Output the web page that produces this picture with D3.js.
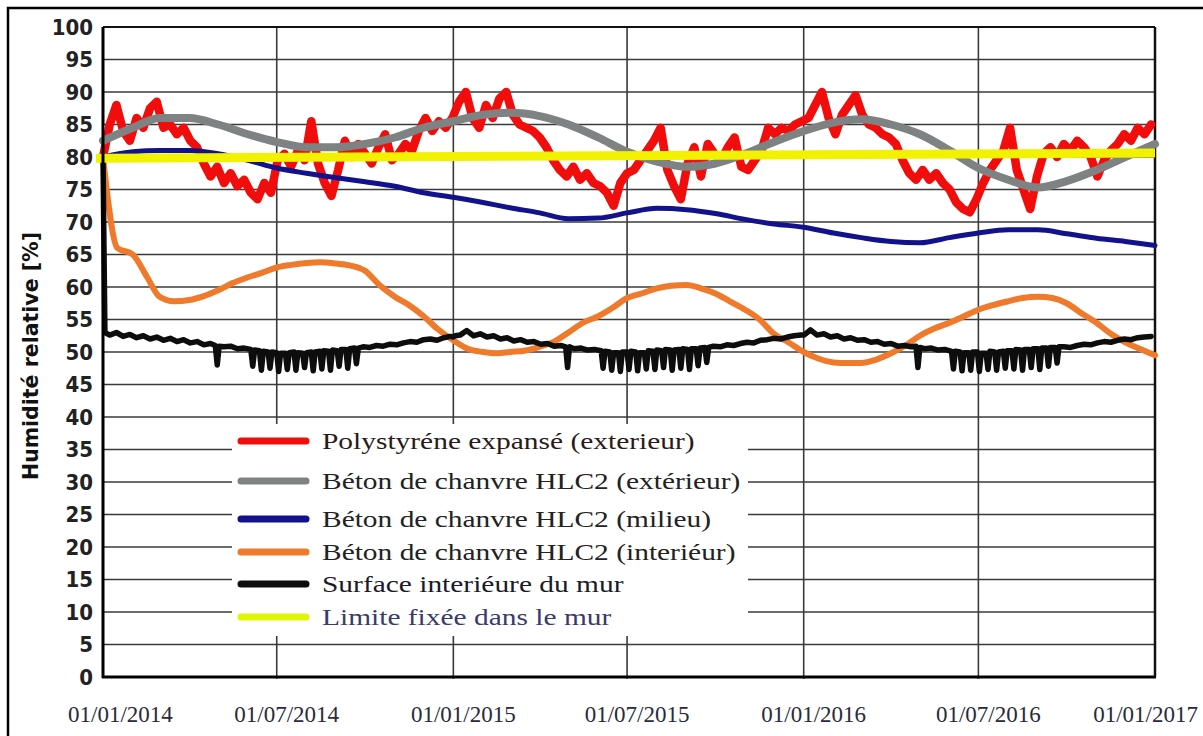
<!DOCTYPE html>
<html><head><meta charset="utf-8">
<script src="https://cdn.jsdelivr.net/npm/d3@7"></script>
<style>body{margin:0;background:#fff;overflow:hidden}</style>
</head><body><svg id="chart" width="1203" height="736"></svg>
<script>
// ---------------- DATA ----------------
const startDate = new Date(2014, 0, 1);
const endDate = new Date(2017, 0, 1);
const xTickLabels = ["01/01/2014", "01/07/2014", "01/01/2015", "01/07/2015", "01/01/2016", "01/07/2016", "01/01/2017"];
const yTickValues = d3.range(0, 101, 5);
const yAxisTitle = "Humidité relative [%]";

// Béton de chanvre HLC2 (extérieur) — monthly (1st of each month)
const grayExterieur = [82.5, 84.5, 86, 86, 85, 83.5, 82.3, 81.5, 81.5, 82,
  83, 84.5, 85.5, 86.5, 86.8, 86.3, 85, 83, 80.8, 79.3,
  78.5, 79, 80.5, 82.3, 84, 85.3, 85.8, 85, 83.5, 81,
  78.3, 76.5, 75.3, 76.3, 78, 80, 82];

// Béton de chanvre HLC2 (milieu) — monthly
const blueMilieu = [80, 80.8, 81, 81, 80.5, 79.5, 78.3, 77.5, 76.8, 76.2,
  75.5, 74.5, 73.8, 73, 72.2, 71.4, 70.5, 70.6, 71.4, 72.1,
  71.9, 71.3, 70.4, 69.7, 69.2, 68.3, 67.6, 67, 66.8, 67.6,
  68.3, 68.8, 68.8, 68.2, 67.5, 67, 66.4];

// Béton de chanvre HLC2 (intérieur) — twice a month (1st and 16th)
const orangeInterieur = [80, 66, 65, 61.5, 58.5, 57.8, 58, 58.6, 59.5, 60.6,
  61.5, 62.2, 63, 63.4, 63.7, 63.8, 63.6, 63.3, 62.5, 60.3,
  58.5, 57.2, 55.5, 53.5, 51.8, 50.5, 50, 49.8, 50, 50.2,
  50.8, 51.6, 53, 54.5, 55.5, 56.8, 58.3, 59, 59.8, 60.2,
  60.3, 59.8, 59, 57.8, 56.5, 55, 52.8, 51.5, 50, 49,
  48.4, 48.3, 48.3, 48.8, 49.8, 51, 52.5, 53.6, 54.5, 55.5,
  56.5, 57.2, 57.8, 58.3, 58.5, 58.3, 57.5, 56, 54.5, 52.8,
  51.5, 50.5, 49.5];

// Polystyrène expansé (extérieur) — weekly
const redPolystyrene = [80, 85, 88, 84, 82.5, 86, 84.5, 87.5, 88.5, 84.5,
  85, 83.5, 84.5, 82.5, 81.5, 79, 77, 78.5, 76, 77.5,
  75.5, 76.5, 74.5, 73.5, 76, 74.5, 79.5, 80.5, 78.5, 81,
  79.5, 85.5, 79, 76, 74, 78, 82.5, 80, 82, 80.5,
  79, 81.5, 83.5, 79.5, 80.5, 82, 81, 84, 86, 84,
  85.5, 84.5, 86, 88.5, 90, 86, 84.5, 88, 86, 89,
  90, 86.5, 85, 84.5, 84, 83, 81.5, 79.5, 78, 77,
  78.5, 76.5, 77.5, 76, 75.5, 74.5, 72.5, 76, 77.5, 78,
  79.5, 81, 82.5, 84.5, 78, 75.5, 73.5, 79, 81.5, 77,
  82, 80.5, 79.5, 81.5, 83, 78.5, 78, 79.5, 81, 84.5,
  83.5, 84.5, 84, 85, 85.5, 86, 88, 90, 86, 83.5,
  86.5, 88, 89.5, 86.5, 85, 84.5, 83.5, 83, 82, 79.5,
  77.5, 76.5, 78, 76.5, 77.5, 76, 75, 73, 72, 71.5,
  73.5, 76, 78, 79.5, 81, 84.5, 78, 75, 72, 77,
  80.5, 81.5, 80, 82, 81, 82.5, 81.5, 80, 77, 79.5,
  81, 82, 83.5, 82.5, 84.5, 83.5, 85];

// Surface intérieure du mur — readings at these days of each year
const blackDayOfYear = [0, 2, 7, 14, 21, 28, 35, 42, 49, 56, 63, 70, 77, 84, 91, 98, 105, 112,
  117, 119, 121, 126, 133, 140, 147,
  154, 156, 158, 163, 165, 167, 172, 174, 176, 181, 183, 185, 190, 192, 194,
  199, 201, 203, 208, 210, 212, 217, 219, 221, 226, 228, 230, 235, 237, 239,
  244, 246, 248, 253, 255, 257, 262, 264, 266,
  271, 278, 285, 292, 299, 306, 313, 320, 327, 334, 341, 348, 355, 362];
const blackSurface2014 = [80, 53,
  52.6, 53, 52.4, 52.7, 52.2, 52.5, 52, 52.3, 51.8, 52.1, 51.6, 51.9, 51.4, 51.6, 51.1, 51.3,
  51, 48, 50.9, 50.8, 50.9, 50.5, 50.6,
  50.4, 47.8, 50.3, 50.2, 47.2, 50.1, 50, 47.5, 50, 49.9, 47, 49.8, 49.8, 47.3, 49.9,
  50, 47.2, 49.9, 49.8, 47.6, 49.9, 50, 47.1, 50, 50.1, 47.4, 50.2, 50.1, 47.2, 50.3,
  50.2, 47.8, 50.4, 50.4, 47.5, 50.5, 50.6, 48.2, 50.6,
  50.8, 50.7, 51, 50.9, 51.2, 51.1, 51.4, 51.6, 51.5, 51.9, 52, 51.8, 52.2, 52.4];
const blackSurface2015 = [52.3, 52.5,
  52.6, 53.3, 52.5, 52.8, 52.3, 52.5, 52, 52.2, 51.7, 51.9, 51.5, 51.6, 51.2, 51.3, 50.9, 51,
  50.8, 47.6, 50.8, 50.5, 50.6, 50.3, 50.4,
  50.2, 47.5, 50.1, 50, 47.2, 49.9, 49.9, 47, 50, 50, 47.3, 50.1, 50, 47.1, 49.9,
  49.9, 47.4, 50.2, 50.1, 47.3, 50.3, 50.2, 47.6, 50.4, 50.3, 47.2, 50.3, 50.4, 47.5, 50.5,
  50.4, 47.3, 50.5, 50.5, 47.9, 50.6, 50.7, 48.4, 50.7,
  50.9, 50.8, 51.1, 51, 51.3, 51.5, 51.4, 51.8, 51.9, 52.1, 52, 52.3, 52.5, 52.6];
const blackSurface2016 = [52.6, 52.8,
  53.4, 52.6, 52.8, 52.3, 52.5, 52, 52.2, 51.8, 51.9, 51.5, 51.6, 51.2, 51.3, 50.9, 51, 50.8,
  50.9, 47.6, 50.7, 50.5, 50.6, 50.3, 50.4,
  50.1, 47.4, 50.1, 50, 47.1, 49.9, 49.9, 47.2, 50, 50, 47, 49.8, 49.8, 47.3, 50.1,
  50, 47.2, 50, 50.1, 47.5, 50.2, 50.2, 47.4, 50.4, 50.3, 47.2, 50.4, 50.4, 47.6, 50.5,
  50.5, 47.3, 50.6, 50.6, 47.8, 50.7, 50.7, 48.3, 50.8,
  50.8, 50.7, 51, 51.2, 51.1, 51.4, 51.6, 51.5, 51.8, 52, 51.9, 52.2, 52.3, 52.4];

// Limite fixée dans le mur
const limitDates = [new Date(2014, 0, 1), new Date(2017, 0, 1)];
const limitValues = [79.8, 80.6];

const legendLabels = [
  "Polystyréne expansé (exterieur)",
  "Béton de chanvre HLC2 (extérieur)",
  "Béton de chanvre HLC2 (milieu)",
  "Béton de chanvre HLC2 (interiéur)",
  "Surface interiéure du mur",
  "Limite fixée dans le mur"
];

// ---------------- STYLE / LAYOUT ----------------
const colors = {
  red: "#f20d0d", gray: "#7e8282", blue: "#12128c",
  orange: "#f07a2c", black: "#0d0d0d", yellow: "#f2f200"
};
const legendColors = [colors.red, colors.gray, colors.blue, colors.orange, colors.black, "#e2f500"];
const legendTextColors = ["#2a1a1a", "#222", "#222", "#222", "#1a1a2a", "#3a3a6e"];
const legendRowY = [441, 481, 519, 552, 584, 617];

const plot = { left: 103, right: 1155, top: 27, bottom: 677 };

const svg = d3.select("#chart");
svg.append("rect").attr("width", 1203).attr("height", 736).attr("fill", "#fff");

// outer frame
svg.append("rect").attr("x", 8).attr("y", 8).attr("width", 1205).attr("height", 740)
  .attr("fill", "none").attr("stroke", "#000").attr("stroke-width", 2.5);

const x = d3.scaleTime().domain([startDate, endDate]).range([plot.left, plot.right]);
const y = d3.scaleLinear().domain([0, 100]).range([plot.bottom, plot.top]);

// dates
const monthDates = d3.range(37).map(i => new Date(2014, i, 1));
const halfMonthDates = d3.range(73).map(i => i % 2 === 0 ? new Date(2014, i / 2, 1) : new Date(2014, (i - 1) / 2, 16));
const weekDates = d3.range(157).map(i => d3.timeDay.offset(startDate, i * 7));
const xTickDates = d3.timeMonth.every(6).range(startDate, d3.timeDay.offset(endDate, 1));

const blackPoints = [];
[[2014, blackSurface2014], [2015, blackSurface2015], [2016, blackSurface2016]].forEach(([yr, vals]) => {
  vals.forEach((v, i) => blackPoints.push({ date: d3.timeDay.offset(new Date(yr, 0, 1), blackDayOfYear[i]), value: v }));
});

// grid lines
const gridY = svg.append("g");
gridY.selectAll("line").data(yTickValues.filter(v => v > 0 && v < 100)).join("line")
  .attr("x1", plot.left).attr("x2", plot.right)
  .attr("y1", d => y(d)).attr("y2", d => y(d))
  .attr("stroke", "#3a3a3a").attr("stroke-width", 1.6);
const gridX = svg.append("g");
gridX.selectAll("line").data(xTickDates.slice(1, -1)).join("line")
  .attr("x1", d => x(d)).attr("x2", d => x(d))
  .attr("y1", plot.top).attr("y2", plot.bottom + 2)
  .attr("stroke", "#3a3a3a").attr("stroke-width", 1.6);

// legend background (covers grid)
svg.append("rect").attr("x", 232).attr("y", 424).attr("width", 516).attr("height", 212).attr("fill", "#fff");

// plot border
svg.append("line").attr("x1", plot.left).attr("x2", plot.right).attr("y1", plot.top).attr("y2", plot.top)
  .attr("stroke", "#111").attr("stroke-width", 2);
svg.append("line").attr("x1", plot.right).attr("x2", plot.right).attr("y1", plot.top).attr("y2", plot.bottom)
  .attr("stroke", "#111").attr("stroke-width", 2.5);

// series
const lineOf = (dates, curve) => d3.line().x((d, i) => x(dates[i])).y(d => y(d)).curve(curve);
const g = svg.append("g").attr("fill", "none").attr("stroke-linejoin", "round").attr("stroke-linecap", "round");

g.append("path").datum(redPolystyrene).attr("d", lineOf(weekDates, d3.curveLinear))
  .attr("stroke", colors.red).attr("stroke-width", 8.5);
g.append("path").datum(grayExterieur).attr("d", lineOf(monthDates, d3.curveMonotoneX))
  .attr("stroke", colors.gray).attr("stroke-width", 8);
g.append("path").datum(blueMilieu).attr("d", lineOf(monthDates, d3.curveMonotoneX))
  .attr("stroke", colors.blue).attr("stroke-width", 5);
g.append("path").datum(orangeInterieur).attr("d", lineOf(halfMonthDates, d3.curveMonotoneX))
  .attr("stroke", colors.orange).attr("stroke-width", 6);
g.append("path").datum(blackPoints)
  .attr("d", d3.line().x(d => x(d.date)).y(d => y(d.value)))
  .attr("stroke", colors.black).attr("stroke-width", 5.5);
g.append("path").datum(limitValues).attr("d", lineOf(limitDates, d3.curveLinear))
  .attr("stroke", colors.yellow).attr("stroke-width", 9).attr("stroke-linecap", "butt");
// small extension of the limit line to the left of the axis
g.append("line").attr("x1", x(startDate) - 7).attr("x2", x(startDate))
  .attr("y1", y(limitValues[0])).attr("y2", y(limitValues[0]))
  .attr("stroke", colors.yellow).attr("stroke-width", 9).attr("stroke-linecap", "butt");

// axes lines (left and bottom)
svg.append("line").attr("x1", plot.left).attr("x2", plot.left).attr("y1", plot.top).attr("y2", plot.bottom + 1)
  .attr("stroke", "#000").attr("stroke-width", 3);
svg.append("line").attr("x1", plot.left - 1).attr("x2", plot.right + 1).attr("y1", plot.bottom).attr("y2", plot.bottom)
  .attr("stroke", "#000").attr("stroke-width", 3);

// y tick labels
svg.append("g").selectAll("text").data(yTickValues).join("text")
  .attr("x", 93).attr("y", d => y(d)).attr("dy", "0.36em")
  .attr("text-anchor", "end")
  .attr("font-family", "'DejaVu Sans Condensed', 'DejaVu Sans', sans-serif")
  .attr("font-weight", "bold").attr("font-size", 22).attr("fill", "#222")
  .text(d => d);

// y axis title
svg.append("text")
  .attr("transform", "translate(38,356) rotate(-90)")
  .attr("text-anchor", "middle")
  .attr("font-family", "'DejaVu Sans', sans-serif")
  .attr("font-weight", "bold").attr("font-size", 20.5).attr("fill", "#111")
  .text(yAxisTitle);

// x tick labels
const xl = svg.append("g").selectAll("text").data(xTickDates).join("text")
  .attr("y", 722).attr("text-anchor", "middle")
  .attr("font-family", "'Liberation Serif', 'Times New Roman', serif")
  .attr("font-size", 23).attr("fill", "#2a2a3a")
  .text((d, i) => xTickLabels[i]);
xl.each(function (d) {
  const w = this.getComputedTextLength();
  let cx = x(d) + 10;
  cx = Math.max(cx, 68 + w / 2);
  cx = Math.min(cx, 1198 - w / 2);
  d3.select(this).attr("x", cx);
});

// legend
const lg = svg.append("g");
legendLabels.forEach((lab, i) => {
  const yy = legendRowY[i];
  lg.append("line").attr("x1", 241).attr("x2", 306).attr("y1", yy).attr("y2", yy)
    .attr("stroke", legendColors[i]).attr("stroke-width", 7).attr("stroke-linecap", "round");
  lg.append("text")
    .attr("transform", `translate(322,${yy}) scale(1.28,1)`)
    .attr("dy", "0.33em")
    .attr("font-family", "'Liberation Serif', 'Times New Roman', serif")
    .attr("font-size", 23).attr("fill", legendTextColors[i])
    .text(lab);
});
</script>
</body></html>
